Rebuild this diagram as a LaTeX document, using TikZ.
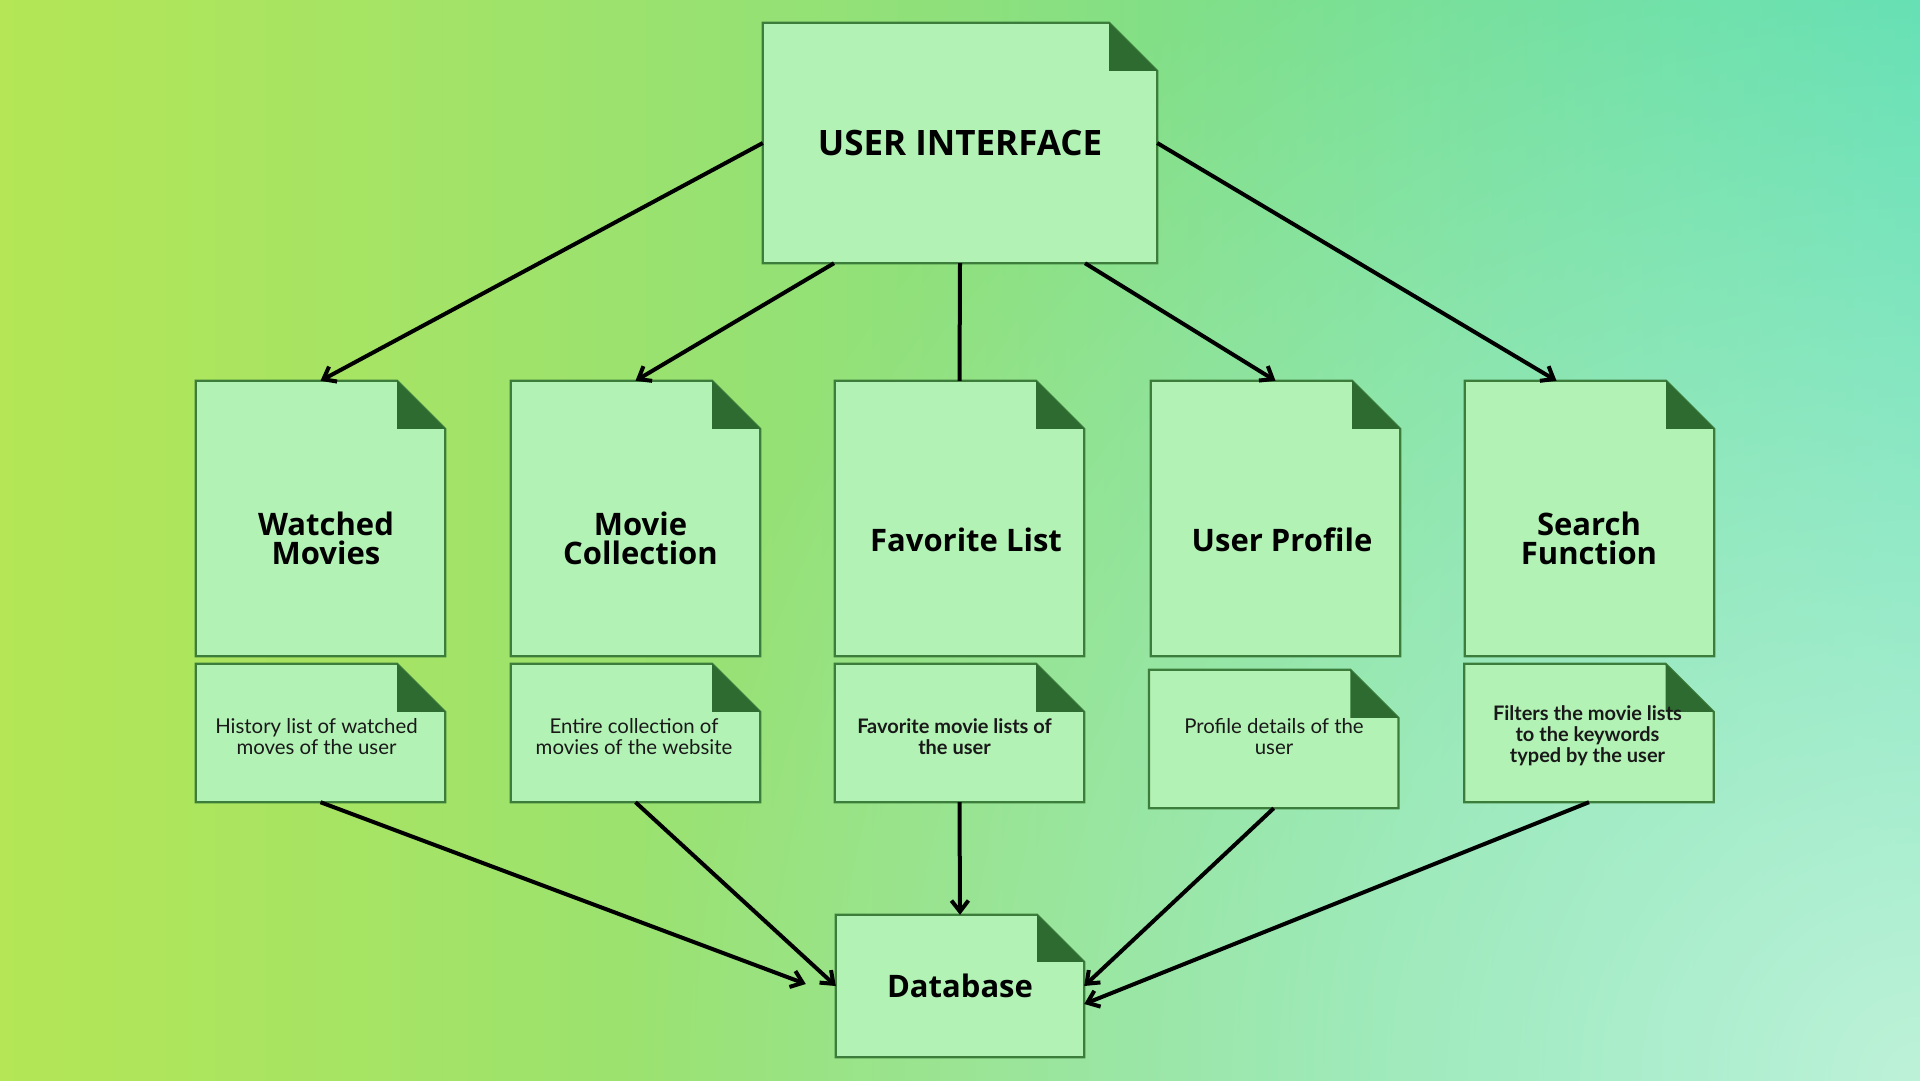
\documentclass[tikz,border=0pt]{standalone}
\usepackage{fontspec}
\setmainfont{Open Sans}
\newfontfamily\descfont{Lato}
\usetikzlibrary{arrows.meta,fadings}
\pgfdeclarelayer{bg}
\pgfdeclarelayer{boxes}
\pgfsetlayers{bg,boxes,main}
\definecolor{bgleft}{HTML}{B4E656}
\definecolor{bgmid}{HTML}{8EE07C}
\definecolor{bgright}{HTML}{55DDAE}
\definecolor{bgcorner}{HTML}{BEF2D8}
\definecolor{boxfill}{HTML}{B3F2B5}
\definecolor{boxline}{HTML}{3C7D3C}
\definecolor{foldc}{HTML}{2E6B30}
\tikzfading[name=cornerfade, inner color=transparent!0, outer color=transparent!100]
\newcommand\mydoc[2]{%
 \begin{pgfonlayer}{boxes}
 \draw[docline] (#1.north west) -- ([xshift=-#2]#1.north east) -- ([yshift=-#2]#1.north east) -- (#1.south east) -- (#1.south west) -- cycle;
 \fill[foldc] ([xshift=-#2]#1.north east) -- ([xshift=-#2,yshift=-#2]#1.north east) -- ([yshift=-#2]#1.north east) -- cycle;
 \end{pgfonlayer}}
\tikzset{
 docline/.style={draw=boxline, fill=boxfill, line width=2.2pt},
 docbox/.style={inner sep=0pt, minimum width=#1},
 docbox/.default=249pt,
 title/.style={font=\fontsize{31}{29}\selectfont\bfseries, align=center, text=black},
 bigtitle/.style={font=\fontsize{35}{38}\selectfont\bfseries, align=center, text=black},
 desc/.style={font=\descfont\fontsize{20.4}{21}\selectfont, align=center, text=black!90},
 descb/.style={font=\descfont\bfseries\fontsize{20}{21}\selectfont, align=center, text=black!90},
 conn/.style={line width=4pt, draw=black},
 arr/.style={conn, -{Straight Barb[length=11pt,width=17pt,line width=4pt]}},
}
\begin{document}
\begin{tikzpicture}[x=1pt,y=-1pt]
\useasboundingbox (0,0) rectangle (1920,1080);
\begin{pgfonlayer}{bg}
\shade[left color=bgleft, right color=bgright, middle color=bgmid] (0,0) rectangle (1920,1080);
\begin{scope}
\clip (0,0) rectangle (1920,1080);
\fill[bgcorner, path fading=cornerfade] (1920,1080) circle[radius=1300pt];
\end{scope}
\end{pgfonlayer}

% top
\node[docbox=394pt, minimum height=240pt] (ui) at (960,143) {};
\node[bigtitle] (uit) at (960,143) {USER INTERFACE};
\mydoc{ui}{48pt}

% middle row
\node[docbox, minimum height=275pt] (wm) at (320.5,518.5) {};
\node[docbox, minimum height=275pt] (mc) at (635.5,518.5) {};
\node[docbox, minimum height=275pt] (fl) at (959.5,518.5) {};
\node[docbox, minimum height=275pt] (up) at (1275.5,518.5) {};
\node[docbox, minimum height=275pt] (sf) at (1589.5,518.5) {};
\mydoc{wm}{48pt}\mydoc{mc}{48pt}\mydoc{fl}{48pt}\mydoc{up}{48pt}\mydoc{sf}{48pt}
\node[title] (wmt) at (326,538) {Watched\\Movies};
\node[title] (mct) at (640.5,538) {Movie\\Collection};
\node[title] (flt) at (966,540) {Favorite List};
\node[title] (upt) at (1282,540) {User Profile};
\node[title] (sft) at (1589,538) {Search\\Function};

% descriptions
\node[docbox, minimum height=138pt] (wmd) at (320.5,733) {};
\node[docbox, minimum height=138pt] (mcd) at (635.5,733) {};
\node[docbox, minimum height=138pt] (fld) at (959.5,733) {};
\node[docbox, minimum height=138pt] (upd) at (1273.75,739) {};
\node[docbox, minimum height=138pt] (sfd) at (1589,733) {};
\mydoc{wmd}{48pt}\mydoc{mcd}{48pt}\mydoc{fld}{48pt}\mydoc{upd}{48pt}\mydoc{sfd}{48pt}
\node[desc] (wmdt) at (316.5,737) {History list of watched\\moves of the user};
\node[desc] (mcdt) at (634,737) {Entire collection of\\movies of the website};
\node[descb] (fldt) at (954.5,737) {Favorite movie lists of\\the user};
\node[desc] (updt) at (1274,737) {Profile details of the\\user};
\node[descb] (sfdt) at (1587.5,736) {Filters the movie lists\\to the keywords\\typed by the user};

% database
\node[docbox=248pt, minimum height=142pt] (db) at (960,986) {};
\node[bigtitle, font=\fontsize{31}{34}\selectfont\bfseries] (dbt) at (960,986) {Database};
\mydoc{db}{47pt}

% connectors from UI
\draw[arr] (ui.west) -- (wm.north);
\draw[arr] ([xshift=-126pt]ui.south) -- (mc.north);
\draw[conn] (ui.south) -- (fl.north);
\draw[arr] ([xshift=125pt]ui.south) -- (up.north);
\draw[arr] (ui.east) -- ([xshift=-33pt]sf.north);

% connectors to database
\coordinate (dbl) at ([xshift=-30pt,yshift=2pt]db.west);
\coordinate (dbr) at ([yshift=-18pt]db.east);
\draw[arr] (wmd.south) -- (dbl);
\draw[arr] (mcd.south) -- (db.west);
\draw[arr] (fld.south) -- (db.north);
\draw[arr] (upd.south) -- (db.east);
\draw[arr] (sfd.south) -- (dbr);
\end{tikzpicture}
\end{document}
